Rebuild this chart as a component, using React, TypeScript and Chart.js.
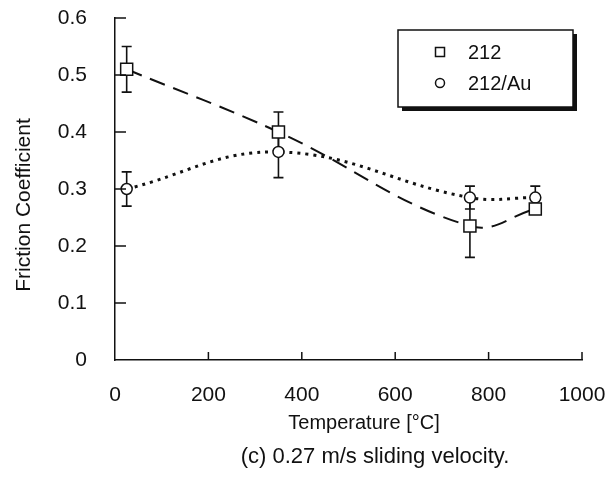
import React, { useEffect, useRef } from "react";
import { Chart, registerables } from "chart.js";

Chart.register(...registerables);

// ---- data ----
const seriesLabels = ["212", "212/Au"];

const temps212 = [25, 350, 760, 900];
const cof212 = [0.51, 0.4, 0.235, 0.265];
const err212Low: (number | null)[] = [0.47, 0.37, 0.18, null];
const err212High: (number | null)[] = [0.55, 0.435, 0.29, null];

const tempsAu = [25, 350, 760, 900];
const cofAu = [0.3, 0.365, 0.285, 0.285];
const errAuLow: (number | null)[] = [0.27, 0.32, 0.265, 0.265];
const errAuHigh: (number | null)[] = [0.33, 0.4, 0.305, 0.305];

const xTicks = [0, 200, 400, 600, 800, 1000];
const yTicks = [0, 0.1, 0.2, 0.3, 0.4, 0.5, 0.6];

const xTitle = "Temperature [°C]";
const yTitle = "Friction Coefficient";
const caption = "(c) 0.27 m/s sliding velocity.";

const FONT = "'Liberation Sans', Arial, Helvetica, sans-serif";

const errLows = [err212Low, errAuLow];
const errHighs = [err212High, errAuHigh];
const xsets = [temps212, tempsAu];

const errorBarPlugin = {
  id: "errorBars",
  beforeDatasetsDraw(chart: any) {
    const { ctx, scales } = chart;
    const xs = scales.x;
    const ys = scales.y;
    ctx.save();
    ctx.strokeStyle = "#111";
    ctx.lineWidth = 1.6;
    for (let d = 0; d < xsets.length; d++) {
      const xv = xsets[d];
      for (let i = 0; i < xv.length; i++) {
        const lo = errLows[d][i];
        const hi = errHighs[d][i];
        if (lo == null || hi == null) continue;
        const px = xs.getPixelForValue(xv[i]);
        const y1 = ys.getPixelForValue(lo);
        const y2 = ys.getPixelForValue(hi);
        ctx.beginPath();
        ctx.moveTo(px, y1);
        ctx.lineTo(px, y2);
        ctx.moveTo(px - 5, y1);
        ctx.lineTo(px + 5, y1);
        ctx.moveTo(px - 5, y2);
        ctx.lineTo(px + 5, y2);
        ctx.stroke();
      }
    }
    ctx.restore();
  },
};

const decorPlugin = {
  id: "decor",
  afterDraw(chart: any) {
    const { ctx, scales, chartArea } = chart;
    const xs = scales.x;
    const ys = scales.y;
    ctx.save();
    // inward tick marks
    ctx.strokeStyle = "#111";
    ctx.lineWidth = 1.5;
    ctx.beginPath();
    for (const v of yTicks) {
      if (v === 0) continue;
      const py = ys.getPixelForValue(v);
      ctx.moveTo(chartArea.left, py);
      ctx.lineTo(chartArea.left + 11, py);
    }
    for (const v of xTicks) {
      if (v === 0) continue;
      const px = xs.getPixelForValue(v);
      ctx.moveTo(px, chartArea.bottom);
      ctx.lineTo(px, chartArea.bottom - 8);
    }
    ctx.stroke();

    // titles and caption
    ctx.fillStyle = "#111";
    ctx.textAlign = "center";
    ctx.textBaseline = "middle";
    ctx.font = `20px ${FONT}`;
    ctx.fillText(xTitle, 364, 423);
    ctx.font = `22px ${FONT}`;
    ctx.fillText(caption, 375, 457);
    ctx.save();
    ctx.font = `21px ${FONT}`;
    ctx.translate(24, 205);
    ctx.rotate(-Math.PI / 2);
    ctx.fillText(yTitle, 0, 0);
    ctx.restore();

    // legend box with drop shadow
    const bx = 398, by = 30, bw = 175, bh = 77;
    ctx.fillStyle = "#111";
    ctx.fillRect(bx + 4, by + 4, bw, bh);
    ctx.fillStyle = "#fff";
    ctx.fillRect(bx, by, bw, bh);
    ctx.lineWidth = 1.5;
    ctx.strokeStyle = "#111";
    ctx.strokeRect(bx, by, bw, bh);

    const rows = [52, 83];
    ctx.textAlign = "left";
    ctx.fillStyle = "#111";
    ctx.font = `20px ${FONT}`;
    for (let i = 0; i < seriesLabels.length; i++) {
      const cy = rows[i];
      ctx.beginPath();
      if (i === 0) {
        ctx.rect(440 - 4.5, cy - 4.5, 9, 9);
      } else {
        ctx.arc(440, cy, 4.5, 0, Math.PI * 2);
      }
      ctx.lineWidth = 1.5;
      ctx.stroke();
      ctx.fillText(seriesLabels[i], 468, cy + 1);
    }
    ctx.restore();
  },
};

export default function App() {
  const ref = useRef<HTMLCanvasElement | null>(null);

  useEffect(() => {
    if (!ref.current) return;
    const chart = new Chart(ref.current, {
      type: "scatter",
      data: {
        datasets: [
          {
            label: seriesLabels[0],
            data: temps212.map((t, i) => ({ x: t, y: cof212[i] })),
            showLine: true,
            tension: 0.4,
            borderColor: "#111",
            borderWidth: 2,
            borderDash: [16, 9],
            pointStyle: "rect",
            pointRadius: 8.5,
            pointBorderWidth: 1.5,
            pointBackgroundColor: "#fff",
            pointBorderColor: "#111",
          },
          {
            label: seriesLabels[1],
            data: tempsAu.map((t, i) => ({ x: t, y: cofAu[i] })),
            showLine: true,
            tension: 0.4,
            borderColor: "#111",
            borderWidth: 3,
            borderDash: [3, 5],
            pointStyle: "circle",
            pointRadius: 5.5,
            pointBorderWidth: 1.5,
            pointBackgroundColor: "#fff",
            pointBorderColor: "#111",
          },
        ],
      },
      options: {
        responsive: false,
        animation: false,
        layout: { padding: { top: 18, right: 24, left: 0, bottom: 0 } },
        plugins: {
          legend: { display: false },
          tooltip: { enabled: false },
          title: { display: false },
        },
        scales: {
          x: {
            type: "linear",
            min: 0,
            max: 1000,
            afterBuildTicks: (s: any) => {
              s.ticks = xTicks.map((v) => ({ value: v }));
            },
            afterFit: (s: any) => {
              s.height = 130;
              s.paddingLeft = 0;
              s.paddingRight = 0;
              s.paddingTop = 0;
              s.paddingBottom = 0;
            },
            grid: { display: false, drawTicks: false },
            border: { display: true, color: "#111", width: 1.5 },
            ticks: {
              color: "#111",
              font: { family: FONT, size: 21 },
              padding: 23,
              maxRotation: 0,
              autoSkip: false,
              callback: (v: any) => String(v),
            },
          },
          y: {
            type: "linear",
            min: 0,
            max: 0.6,
            afterBuildTicks: (s: any) => {
              s.ticks = yTicks.map((v) => ({ value: v }));
            },
            afterFit: (s: any) => {
              s.width = 115;
              s.paddingLeft = 0;
              s.paddingRight = 0;
              s.paddingTop = 0;
              s.paddingBottom = 0;
            },
            grid: { display: false, drawTicks: false },
            border: { display: true, color: "#111", width: 1.5 },
            ticks: {
              color: "#111",
              font: { family: FONT, size: 21 },
              padding: 28,
              autoSkip: false,
              callback: (v: any) => (Number(v) === 0 ? "0" : Number(v).toFixed(1)),
            },
          },
        },
      },
      plugins: [errorBarPlugin, decorPlugin],
    });
    return () => chart.destroy();
  }, []);

  return (
    <div style={{ position: "absolute", left: 0, top: 0, width: 606, height: 490, background: "#fff" }}>
      <canvas ref={ref} width={606} height={490} style={{ width: 606, height: 490 }} />
    </div>
  );
}
